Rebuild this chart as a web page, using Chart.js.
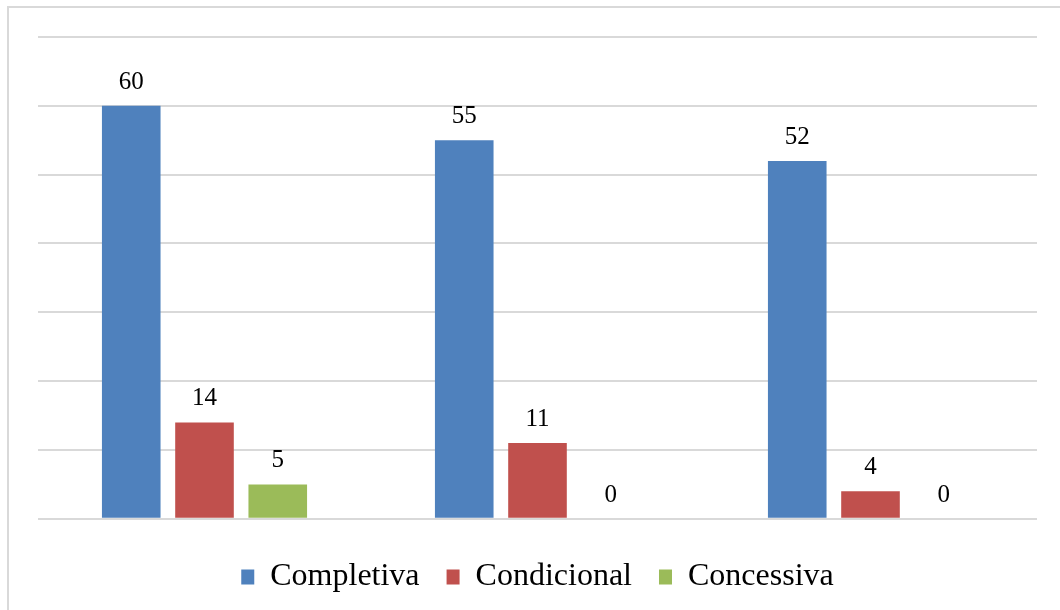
<!DOCTYPE html>
<html>
<head>
<meta charset="utf-8">
<script src="https://cdn.jsdelivr.net/npm/chart.js@4"></script>
<style>
  html, body { margin: 0; padding: 0; background: #fff; }
  #wrap { width: 1060px; height: 610px; position: relative; }
</style>
</head>
<body>
<div id="wrap"><canvas id="chart" width="1060" height="610"></canvas></div>
<script>
const categories = ['', '', '']
const completiva = [60, 55, 52]
const condicional = [14, 11, 4]
const concessiva = [5, 0, 0]
const seriesNames = ['Completiva', 'Condicional', 'Concessiva']
const yTicks = [0, 10, 20, 30, 40, 50, 60, 70]

const serif = '"Liberation Serif", "Times New Roman", serif'

// light frame around the whole chart
const frame = {
    id: 'frame',
    beforeDraw(chart) {
        const ctx = chart.ctx
        ctx.save()
        ctx.fillStyle = '#fff'
        ctx.fillRect(0, 0, chart.width, chart.height)
        ctx.strokeStyle = '#d9d9d9'
        ctx.lineWidth = 2
        ctx.strokeRect(8, 7, 1200, 800)
        ctx.restore()
    }
}

// value labels above each bar
const valueLabels = {
    id: 'valueLabels',
    afterDatasetsDraw(chart) {
        const ctx = chart.ctx
        ctx.save()
        ctx.font = '25px ' + serif
        ctx.fillStyle = '#000'
        ctx.textAlign = 'center'
        ctx.textBaseline = 'alphabetic'
        chart.data.datasets.forEach((ds, i) => {
            chart.getDatasetMeta(i).data.forEach((bar, j) => {
                ctx.fillText(String(ds.data[j]), bar.x, bar.y - 17)
            })
        })
        ctx.restore()
    }
}

new Chart(document.getElementById('chart'), {
    type: 'bar',
    data: {
        labels: categories,
        datasets: [
            { label: seriesNames[0], data: completiva, backgroundColor: '#4f81bd' },
            { label: seriesNames[1], data: condicional, backgroundColor: '#c0504d' },
            { label: seriesNames[2], data: concessiva, backgroundColor: '#9bbb59' },
        ].map(d => ({ ...d, categoryPercentage: 0.66, barPercentage: 0.8 }))
    },
    options: {
        responsive: false,
        animation: false,
        layout: { padding: { left: 38, right: 23, top: 37, bottom: 7 } },
        plugins: {
            legend: {
                position: 'bottom',
                // empty title only adds room between plot and legend
                title: { display: true, text: '', font: { size: 1 }, padding: { top: 7, bottom: 7 } },
                labels: {
                    font: { family: serif, size: 32 },
                    color: '#000',
                    boxWidth: 13,
                    boxHeight: 15,
                    padding: 27,
                }
            },
            tooltip: { enabled: false },
        },
        scales: {
            x: {
                grid: { display: false },
                border: { display: false },
                ticks: { display: false },
                afterFit: s => { s.height = 0 },
            },
            y: {
                min: 0,
                max: 70,
                afterBuildTicks: s => { s.ticks = yTicks.map(v => ({ value: v })) },
                ticks: { display: false },
                grid: { color: '#d9d9d9', lineWidth: 2, drawTicks: false },
                border: { display: false },
                afterFit: s => { s.width = 0 },
            }
        }
    },
    plugins: [frame, valueLabels]
})
</script>
</body>
</html>
